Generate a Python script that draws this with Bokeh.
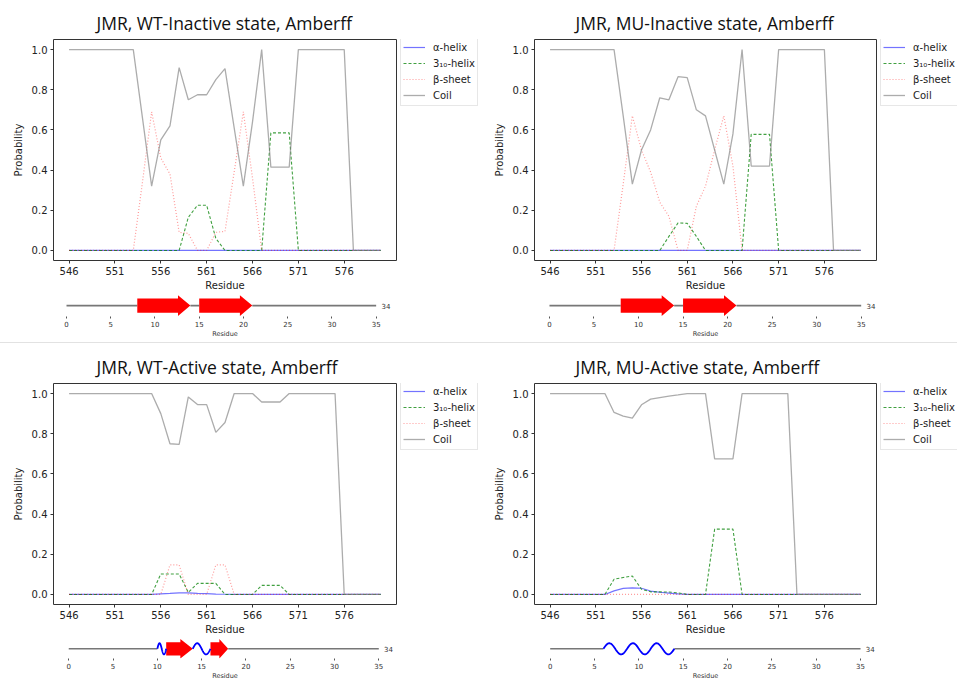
import numpy as np
from bokeh.plotting import figure
from bokeh.layouts import column, row
from bokeh.models import (Legend, LegendItem, FixedTicker, PrintfTickFormatter,
                          Range1d, Div)
from bokeh.embed import file_html
from bokeh.resources import INLINE
from bokeh.core.properties import value

# ---------------- data ----------------
residues = list(range(546, 581))
x_ticks = [546, 551, 556, 561, 566, 571, 576]
y_ticks = [0.0, 0.2, 0.4, 0.6, 0.8, 1.0]
diag_ticks = [0, 5, 10, 15, 20, 25, 30, 35]
diag_length = 35
diag_label = "34"

titles = ["JMR, WT-Inactive state, Amberff", "JMR, MU-Inactive state, Amberff",
          "JMR, WT-Active state, Amberff", "JMR, MU-Active state, Amberff"]
series_labels = ["α-helix", "3₁₀-helix", "β-sheet", "Coil"]

# WT - inactive
wt_inact_alpha = [0.0] * 35
wt_inact_310 = [0.0] * 13 + [0.165, 0.225, 0.225, 0.06] + [0.0] * 5 + [0.585, 0.585, 0.585] + [0.0] * 10
wt_inact_beta = [0.0] * 8 + [0.34, 0.69, 0.46, 0.38, 0.09, 0.085, 0.0, 0.0, 0.09, 0.095, 0.39, 0.69, 0.36] + [0.0] * 14
wt_inact_coil = [1.0] * 8 + [0.66, 0.32, 0.55, 0.62, 0.91, 0.75, 0.775, 0.775, 0.85, 0.905, 0.61, 0.32, 0.64] + [1.0] + [0.415] * 3 + [1.0] * 6 + [0.0] * 4

# MU - inactive
mu_inact_alpha = [0.0] * 35
mu_inact_310 = [0.0] * 13 + [0.07, 0.137, 0.135, 0.07] + [0.0] * 5 + [0.578, 0.578, 0.578] + [0.0] * 10
mu_inact_beta = [0.0] * 8 + [0.33, 0.67, 0.50, 0.39, 0.24, 0.17, 0.0, 0.0, 0.22, 0.32, 0.50, 0.67, 0.42] + [0.0] * 14
mu_inact_coil = [1.0] * 8 + [0.67, 0.33, 0.50, 0.60, 0.76, 0.75, 0.865, 0.86, 0.70, 0.67, 0.50, 0.33, 0.58] + [1.0] + [0.42] * 3 + [1.0] * 6 + [0.0] * 4

# WT - active
wt_act_alpha = [0.0] * 10 + [0.003, 0.005, 0.008, 0.008, 0.005, 0.004, 0.002, 0.001] + [0.0] * 17
wt_act_310 = [0.0] * 10 + [0.102, 0.102, 0.102, 0.01, 0.055, 0.055, 0.055] + [0.0] * 4 + [0.045] * 3 + [0.0] * 11
wt_act_beta = [0.0] * 11 + [0.147, 0.147] + [0.0] * 3 + [0.147, 0.147] + [0.0] * 17
wt_act_coil = [1.0] * 10 + [0.90, 0.75, 0.747, 0.983, 0.945, 0.945, 0.807, 0.856] + [1.0] * 3 + [0.958] * 3 + [1.0] * 6 + [0.0] * 5

# MU - active
mu_act_alpha = [0.0] * 7 + [0.018, 0.03, 0.033, 0.031, 0.017, 0.011, 0.007, 0.003] + [0.0] * 20
mu_act_310 = [0.0] * 7 + [0.076, 0.084, 0.092, 0.026, 0.013, 0.013, 0.012, 0.008] + [0.0] * 3 + [0.325] * 3 + [0.0] * 14
mu_act_beta = [0.0] * 35
mu_act_coil = [1.0] * 7 + [0.906, 0.888, 0.878, 0.944, 0.972, 0.98, 0.987, 0.993] + [1.0] * 3 + [0.675] * 3 + [1.0] * 6 + [0.0] * 8

# secondary-structure diagrams (start, end) in residue index
wt_inact_strands = [(8, 14), (15, 21)]
wt_inact_helices = []
mu_inact_strands = [(8, 14), (15, 21)]
mu_inact_helices = []
wt_act_strands = [(11, 14), (16, 18)]
wt_act_helices = [(10, 11), (14, 16)]
mu_act_strands = []
mu_act_helices = [(6, 14)]

FONT = "DejaVu Sans"

STYLES = [dict(line_color="blue", line_alpha=0.55, line_width=1.2),
          dict(line_color="green", line_alpha=0.75, line_width=1.1, line_dash="3 2"),
          dict(line_color="red", line_alpha=0.4, line_width=1.2, line_dash="1 2"),
          dict(line_color="gray", line_alpha=0.65, line_width=1.3)]


def main_fig(title, series, width, mleft, toff):
    p = figure(width=width, height=293, output_backend="svg", toolbar_location=None,
               x_range=Range1d(544.3, 581.7), y_range=Range1d(-0.05, 1.05),
               min_border_left=mleft, min_border_right=4,
               min_border_top=39, min_border_bottom=31,
               background_fill_color="white", border_fill_color="white")
    p.title.text = title
    p.title.text_font = "Open Sans"
    p.title.text_font_size = "17.5px"
    p.title.text_font_style = "normal"
    p.title.text_color = "#111111"
    p.title.align = "left"
    p.title.offset = toff
    p.title.standoff = 9
    for ys, st in zip(series, STYLES):
        p.line(residues, ys, **st)
    p.grid.visible = False
    p.outline_line_color = "#333333"
    p.outline_line_width = 1
    p.outline_line_alpha = 1
    p.xaxis.ticker = FixedTicker(ticks=x_ticks)
    p.yaxis.ticker = FixedTicker(ticks=y_ticks)
    p.yaxis.formatter = PrintfTickFormatter(format="%.1f")
    p.xaxis.axis_label = "Residue"
    p.yaxis.axis_label = "Probability"
    for ax in (p.xaxis, p.yaxis):
        ax.axis_line_color = None
        ax.minor_tick_line_color = None
        ax.major_tick_in = 0
        ax.major_tick_out = 3
        ax.major_tick_line_color = "#333333"
        ax.major_label_text_font = FONT
        ax.major_label_text_font_size = "10px"
        ax.major_label_text_color = "#222222"
        ax.axis_label_text_font = FONT
        ax.axis_label_text_font_size = "10px"
        ax.axis_label_text_font_style = "normal"
        ax.axis_label_text_color = "#222222"
        ax.major_label_standoff = 3
    p.xaxis.axis_label_standoff = 2
    p.yaxis.axis_label_standoff = 5
    return p


def legend_fig(width, series):
    # the frame of this figure is aligned with the neighbouring plot frame (39..262)
    p = figure(width=width, height=293, output_backend="svg", toolbar_location=None,
               x_range=Range1d(0, 1), y_range=Range1d(0, 1),
               x_axis_location=None, y_axis_location=None,
               min_border_left=0, min_border_right=0, min_border_top=0, min_border_bottom=0,
               background_fill_color="white", border_fill_color="white")
    p.outline_line_color = None
    p.grid.visible = False
    # same series drawn here only as legend proxies (they fall outside this figure's range)
    rs = [p.line(residues, ys, **st) for ys, st in zip(series, STYLES)]
    legend = Legend(items=[LegendItem(label=lab, renderers=[r]) for lab, r in zip(series_labels, rs)],
                    location=(0, 154), label_text_font=FONT, label_text_font_size="10px",
                    label_text_color="#222222",
                    glyph_width=22, glyph_height=16, label_height=16, label_standoff=8,
                    padding=2, spacing=0, margin=0,
                    border_line_color="#d0d0d0", border_line_width=1,
                    background_fill_color="white", background_fill_alpha=1)
    p.add_layout(legend)
    return p


def diag_fig(strands, helices, width, height, mleft, mright, xr, yr):
    p = figure(width=width, height=height, output_backend="svg", toolbar_location=None,
               x_range=Range1d(*xr), y_range=Range1d(*yr), y_axis_location=None,
               min_border_left=mleft, min_border_right=mright,
               min_border_top=0, min_border_bottom=18,
               background_fill_color="white", border_fill_color="white")
    p.outline_line_color = None
    p.grid.visible = False
    # coil segments: gaps between elements
    elems = sorted(list(strands) + list(helices))
    segs = []
    cur = 0
    for s, e in elems:
        if s > cur:
            segs.append((cur, s))
        cur = max(cur, e)
    if cur < diag_length:
        segs.append((cur, diag_length))
    p.multi_line([[a, b] for a, b in segs], [[0, 0] for _ in segs],
                 line_color="#777777", line_width=1.6)
    # strands as arrows
    axs, ays = [], []
    for s, e in strands:
        h = min(1.4, 0.5 * (e - s))
        axs.append([s, e - h, e - h, e, e - h, e - h, s])
        ays.append([0.62, 0.62, 0.9, 0.0, -0.9, -0.62, -0.62])
    if axs:
        p.patches(axs, ays, fill_color="red", line_color=None)
    # helices as waves
    hxs, hys = [], []
    for s, e in helices:
        n = max(1, int(round((e - s) / 2.67)))
        t = np.linspace(0, 1, 80)
        hxs.append(list(s + (e - s) * t))
        hys.append(list(0.52 * np.sin(2 * np.pi * n * t)))
    if hxs:
        p.multi_line(hxs, hys, line_color="blue", line_width=1.8)
    p.text(x=[diag_length + 0.6], y=[0], text=[diag_label], text_font=value(FONT),
           text_font_size="7px", text_baseline="middle", text_align="left",
           text_color="#333333")
    ax = p.xaxis
    ax.ticker = FixedTicker(ticks=diag_ticks)
    ax.axis_line_color = None
    ax.minor_tick_line_color = None
    ax.major_tick_in = 0
    ax.major_tick_out = 2
    ax.major_tick_line_color = "#555555"
    ax.major_label_standoff = 2
    ax.major_label_text_font = FONT
    ax.major_label_text_font_size = "7px"
    ax.major_label_text_color = "#333333"
    ax.axis_label = "Residue"
    ax.axis_label_text_font = FONT
    ax.axis_label_text_font_size = "6.5px"
    ax.axis_label_text_font_style = "normal"
    ax.axis_label_text_color = "#333333"
    ax.axis_label_standoff = 0
    return p


s1 = (wt_inact_alpha, wt_inact_310, wt_inact_beta, wt_inact_coil)
s2 = (mu_inact_alpha, mu_inact_310, mu_inact_beta, mu_inact_coil)
s3 = (wt_act_alpha, wt_act_310, wt_act_beta, wt_act_coil)
s4 = (mu_act_alpha, mu_act_310, mu_act_beta, mu_act_coil)

# main plots: left frame 53..396, right frame 534..876
m1 = main_fig(titles[0], s1, 400, 53, 43)
m2 = main_fig(titles[1], s2, 402, 56, 41)
m3 = main_fig(titles[2], s3, 400, 53, 43)
m4 = main_fig(titles[3], s4, 402, 56, 41)
l1, l2, l3, l4 = legend_fig(78, s1), legend_fig(77, s2), legend_fig(78, s3), legend_fig(77, s4)

W_L, W_R = 478, 479
d1 = diag_fig(wt_inact_strands, wt_inact_helices, W_L, 47, 53, 82, (-1.47, 37.3), (-0.95, 1.05))
d2 = diag_fig(mu_inact_strands, mu_inact_helices, W_R, 47, 56, 81, (-1.68, 36.72), (-0.95, 1.05))
d3 = diag_fig(wt_act_strands, wt_act_helices, W_L, 45, 53, 82, (-1.72, 37.0), (-0.9, 1.05))
d4 = diag_fig(mu_act_strands, mu_act_helices, W_R, 45, 56, 81, (-1.77, 36.8), (-0.9, 1.05))

sep = Div(text="", width=957, height=2, margin=(2, 0, 0, 0),
          styles={"border-top": "1px solid #e2e2e2", "box-sizing": "border-box"})

layout = column(row(m1, l1, m2, l2, spacing=0), row(d1, d2, spacing=0), sep,
                row(m3, l3, m4, l4, spacing=0), row(d3, d4, spacing=0), spacing=0)

open("out.html", "w").write(file_html(layout, INLINE))
